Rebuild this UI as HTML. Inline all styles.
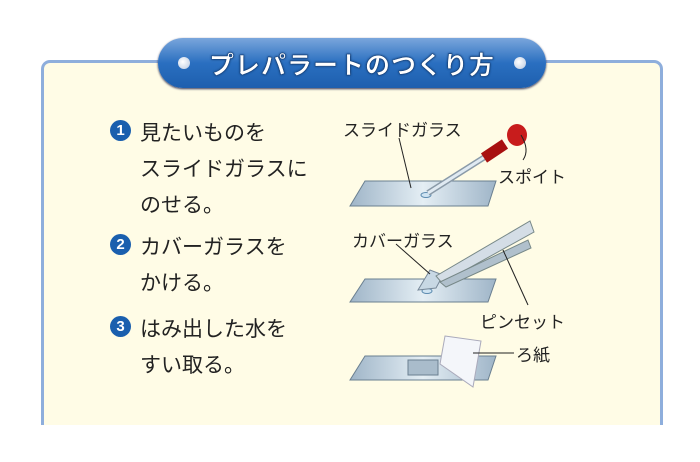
<!DOCTYPE html>
<html><head><meta charset="utf-8"><style>
html,body{margin:0;width:700px;height:462px;overflow:hidden}
body{background:#fff;position:relative;font-family:"Liberation Sans","Noto Sans CJK JP",sans-serif}
.box{position:absolute;left:41px;top:60px;width:616px;height:362px;border:3px solid #8eaedc;border-bottom:none;border-radius:9px 9px 0 0;background:#fffce6}
.pill{position:absolute;left:158px;top:38px;width:388px;height:50px;border-radius:25px;background:linear-gradient(#7aa6dc,#2a6fc0 50%,#1e5fae);box-shadow:0 1px 2px #335}
.pill .t{position:absolute;left:0;right:0;top:8px;text-align:center;color:#fff;font-size:25px;font-weight:bold;letter-spacing:1px;-webkit-text-stroke:0.5px #14407a;text-shadow:0 0 2px #14407a,0 0 2px #14407a}
.dot{position:absolute;top:19px;width:12px;height:12px;border-radius:50%;background:radial-gradient(circle at 40% 40%,#fff,#b8c8e0)}
.l{position:absolute;left:140px;font-size:21px;color:#222;white-space:nowrap}
.n{position:absolute;left:110px;width:21px;height:21px;border-radius:50%;background:#1a5fae;color:#fff;font-size:15px;font-weight:bold;text-align:center;line-height:21px}
.s{position:absolute;font-size:17px;color:#222;white-space:nowrap}
</style></head><body>
<div class="box"></div>
<div class="pill"><div class="dot" style="left:20px"></div><div class="dot" style="right:20px"></div><div class="t">プレパラートのつくり方</div></div>
<div class="n" style="top:120px">1</div>
<div class="l" style="top:117px">見たいものを</div>
<div class="l" style="top:153px">スライドガラスに</div>
<div class="l" style="top:189px">のせる。</div>
<div class="n" style="top:234px">2</div>
<div class="l" style="top:231px">カバーガラスを</div>
<div class="l" style="top:267px">かける。</div>
<div class="n" style="top:316px">3</div>
<div class="l" style="top:313px">はみ出した水を</div>
<div class="l" style="top:349px">すい取る。</div>
<svg style="position:absolute;left:0;top:0" width="700" height="462">
<defs><linearGradient id="g" x1="0" x2="1"><stop offset="0" stop-color="#9fb5c8"/><stop offset=".5" stop-color="#e4eef4"/><stop offset="1" stop-color="#9fb5c8"/></linearGradient></defs>
<g stroke="#6a7f90" stroke-width="1" fill="url(#g)">
<polygon points="365,181 496,181 488,206 350,206"/>
<polygon points="365,279 496,279 488,302 350,302"/>
<polygon points="365,356 496,356 488,380 350,380"/>
</g>
<ellipse cx="426" cy="195" rx="5" ry="2.5" fill="#cfe4f2" stroke="#5d8cb0"/>
<line x1="428" y1="193" x2="488" y2="155" stroke="#8a9aa8" stroke-width="6"/>
<line x1="428" y1="193" x2="488" y2="155" stroke="#e0eaf2" stroke-width="3"/>
<line x1="484" y1="158" x2="505" y2="144" stroke="#a81010" stroke-width="11"/>
<ellipse cx="517" cy="135" rx="10" ry="11" fill="#c81c1c"/>
<ellipse cx="427" cy="291" rx="5" ry="2.5" fill="#cfe4f2" stroke="#5d8cb0"/>
<polygon points="418,290 430,270 443,275 436,288" fill="#c8d8e4" stroke="#789"/>
<polygon points="436,276 530,221 534,232 442,283" fill="#d4dde6" stroke="#788"/>
<polygon points="440,282 528,240 531,248 446,287" fill="#b0c0cc" stroke="#788"/>
<rect x="408" y="360" width="30" height="15" fill="#a9bccb" stroke="#6a7f90"/>
<polygon points="445,336 481,341 473,387 440,364" fill="#f4f6fa" stroke="#aab"/>
<g stroke="#222" stroke-width="1" fill="none">
<line x1="399" y1="138" x2="411" y2="188"/>
<path d="M521,135 Q530,150 523,160"/>
<line x1="396" y1="244" x2="430" y2="274"/>
<line x1="503" y1="250" x2="528" y2="305"/>
<line x1="473" y1="353" x2="514" y2="353"/>
</g>
</svg>
<div class="s" style="left:343px;top:116px">スライドガラス</div>
<div class="s" style="left:498px;top:163px">スポイト</div>
<div class="s" style="left:352px;top:227px">カバーガラス</div>
<div class="s" style="left:480px;top:308px">ピンセット</div>
<div class="s" style="left:516px;top:341px">ろ紙</div>
</body></html>
